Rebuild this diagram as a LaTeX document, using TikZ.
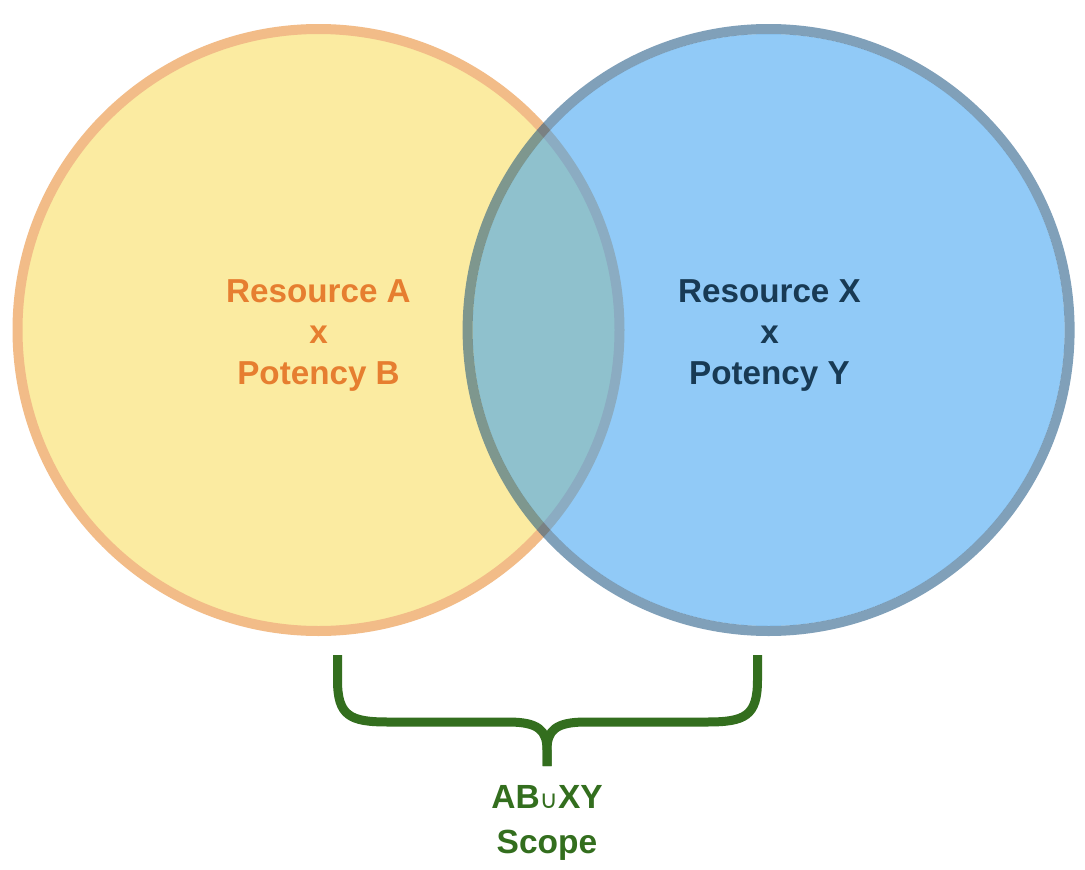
\documentclass[tikz,border=0pt]{standalone}
\usepackage{fontspec}
\setmainfont{Liberation Sans}
\newfontfamily\symfont{DejaVu Sans}
\definecolor{yfill}{RGB}{251,235,161}
\definecolor{ostroke}{RGB}{242,188,136}
\definecolor{bfill}{RGB}{55,160,242}
\definecolor{bstroke}{RGB}{24,82,128}
\definecolor{otext}{RGB}{230,126,48}
\definecolor{ntext}{RGB}{24,58,84}
\definecolor{gtext}{RGB}{51,110,30}
\tikzset{
  lbl/.style={font=\fontsize{33.2}{38}\selectfont\bfseries, anchor=base, inner sep=0pt},
  scopelbl/.style={font=\fontsize{33.5}{38}\selectfont\bfseries, anchor=base, inner sep=0pt, text=gtext},
}
\begin{document}
\begin{tikzpicture}[x=1pt,y=-1pt]
\useasboundingbox (0,0) rectangle (1085,870);
\fill[white] (0,0) rectangle (1085,870);
% left circle
\coordinate (cA) at (318.5,330);
\coordinate (cX) at (768.6,330);
\fill[yfill] (cA) circle[radius=301];
\draw[ostroke, line width=10pt] (cA) circle[radius=301];
% right circle (translucent)
\fill[bfill, fill opacity=0.55] (cX) circle[radius=296];
\draw[bstroke, draw opacity=0.55, line width=10pt] (cX) circle[radius=301];
% texts
\node[lbl, text=otext] (ra) at (318.5,302) {Resource A};
\node[lbl, text=otext] (xa) at (318.5,343) {x};
\node[lbl, text=otext] (pb) at (318.5,384) {Potency B};
\node[lbl, text=ntext] (rx) at (769.5,302) {Resource X};
\node[lbl, text=ntext] (xx) at (769.5,343) {x};
\node[lbl, text=ntext] (py) at (769.5,384) {Potency Y};
% brace
\coordinate (bl) at (337.5,655);
\coordinate (br) at (757.5,655);
\coordinate (bm) at (547,766);
\draw[gtext, line width=9pt]
  (bl) -- (337.5,680) .. controls (337.5,716) and (350,722) .. (388,722)
  -- (508,722) .. controls (538,722) and (547,730) .. (547,750) -- (bm);
\draw[gtext, line width=9pt]
  (br) -- (757.5,680) .. controls (757.5,716) and (745,722) .. (707,722)
  -- (586,722) .. controls (556,722) and (547,730) .. (547,750) -- (bm);
\node[scopelbl] (ab) at (547,808) {AB{\symfont\fontsize{25}{28}\selectfont\mdseries ∪}XY};
\node[scopelbl] (sc) at (547,853) {Scope};
\end{tikzpicture}
\end{document}
